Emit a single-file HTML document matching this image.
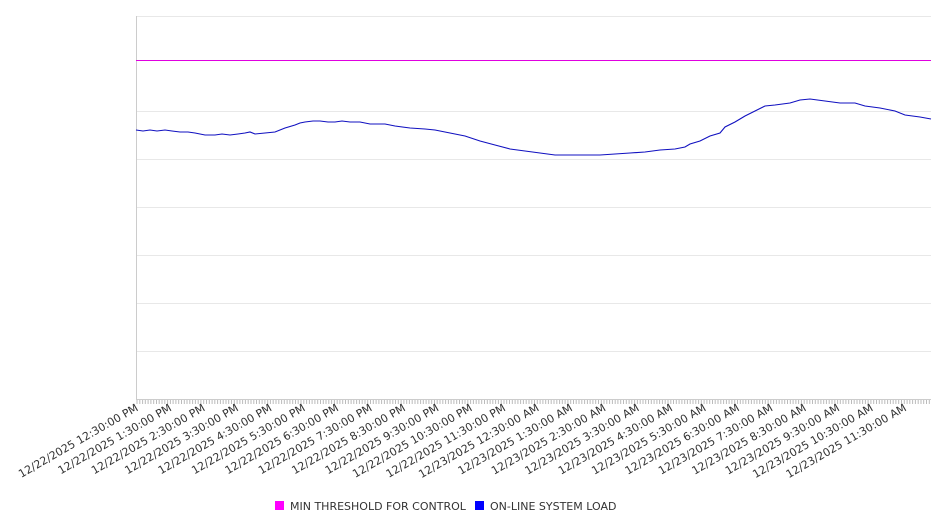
<!DOCTYPE html>
<html><head><meta charset="utf-8"><style>
html,body{margin:0;padding:0;background:#fff;}
svg{display:block;font-family:"DejaVu Sans","Liberation Sans",sans-serif;}
</style></head><body>
<svg width="946" height="526" viewBox="0 0 946 526" xmlns="http://www.w3.org/2000/svg">
<g stroke="#e8e8e8" stroke-width="1">
<line x1="136" y1="16.5" x2="931" y2="16.5"/>
<line x1="136" y1="111.5" x2="931" y2="111.5"/>
<line x1="136" y1="159.5" x2="931" y2="159.5"/>
<line x1="136" y1="207.5" x2="931" y2="207.5"/>
<line x1="136" y1="255.5" x2="931" y2="255.5"/>
<line x1="136" y1="303.5" x2="931" y2="303.5"/>
<line x1="136" y1="351.5" x2="931" y2="351.5"/>
</g>
<line x1="136.5" y1="16" x2="136.5" y2="400" stroke="#ccc"/>
<line x1="136" y1="399.5" x2="931" y2="399.5" stroke="#ccc"/>
<g id="ticks" stroke="#bbb"></g>
<line x1="136" y1="60.5" x2="931" y2="60.5" stroke="#e000e0" stroke-width="1"/>
<polyline fill="none" stroke="#1010c0" stroke-width="1.1" points="136,130 143,131 150,130 157,131 165,130 172,131 180,132 188,132 195,133 200,134 205,135 215,135 222,134 230,135 238,134 245,133 250,132 255,134 265,133 275,132 285,128 295,125 300,123 305,122 313,121 320,121 328,122 335,122 342,121 350,122 360,122 370,124 385,124 395,126 410,128 425,129 435,130 450,133 465,136 480,141 495,145 510,149 525,151 540,153 555,155 570,155 585,155 600,155 615,154 630,153 645,152 660,150 675,149 685,147 690,144 700,141 710,136 720,133 725,127 735,122 745,116 755,111 765,106 775,105 790,103 800,100 810,99 825,101 840,103 855,103 865,106 880,108 895,111 905,115 920,117 931,119"/>
<g id="labels" font-size="11" fill="#333" text-anchor="end"></g>
<rect x="275" y="501" width="9" height="9" fill="#ff00ff"/>
<text x="290" y="510" font-size="11" fill="#333">MIN THRESHOLD FOR CONTROL</text>
<rect x="475" y="501" width="9" height="9" fill="#0000ff"/>
<text x="490" y="510" font-size="11" fill="#333">ON-LINE SYSTEM LOAD</text>
<script>
var ns="http://www.w3.org/2000/svg";
var t=document.getElementById("ticks");
for(var x=137;x<=931;x+=2.78){var l=document.createElementNS(ns,"line");l.setAttribute("x1",x.toFixed(1));l.setAttribute("x2",x.toFixed(1));l.setAttribute("y1",400);l.setAttribute("y2",404);t.appendChild(l);}
var g=document.getElementById("labels");
var hrs=["12:30:00 PM","1:30:00 PM","2:30:00 PM","3:30:00 PM","4:30:00 PM","5:30:00 PM","6:30:00 PM","7:30:00 PM","8:30:00 PM","9:30:00 PM","10:30:00 PM","11:30:00 PM","12:30:00 AM","1:30:00 AM","2:30:00 AM","3:30:00 AM","4:30:00 AM","5:30:00 AM","6:30:00 AM","7:30:00 AM","8:30:00 AM","9:30:00 AM","10:30:00 AM","11:30:00 AM"];
for(var i=0;i<24;i++){var x=139+i*33.4,y=410;var tx=document.createElementNS(ns,"text");tx.setAttribute("transform","translate("+x+","+y+") rotate(-30)");tx.textContent=(i<12?"12/22/2025 ":"12/23/2025 ")+hrs[i];g.appendChild(tx);}
</script>
</svg>
</body></html>
